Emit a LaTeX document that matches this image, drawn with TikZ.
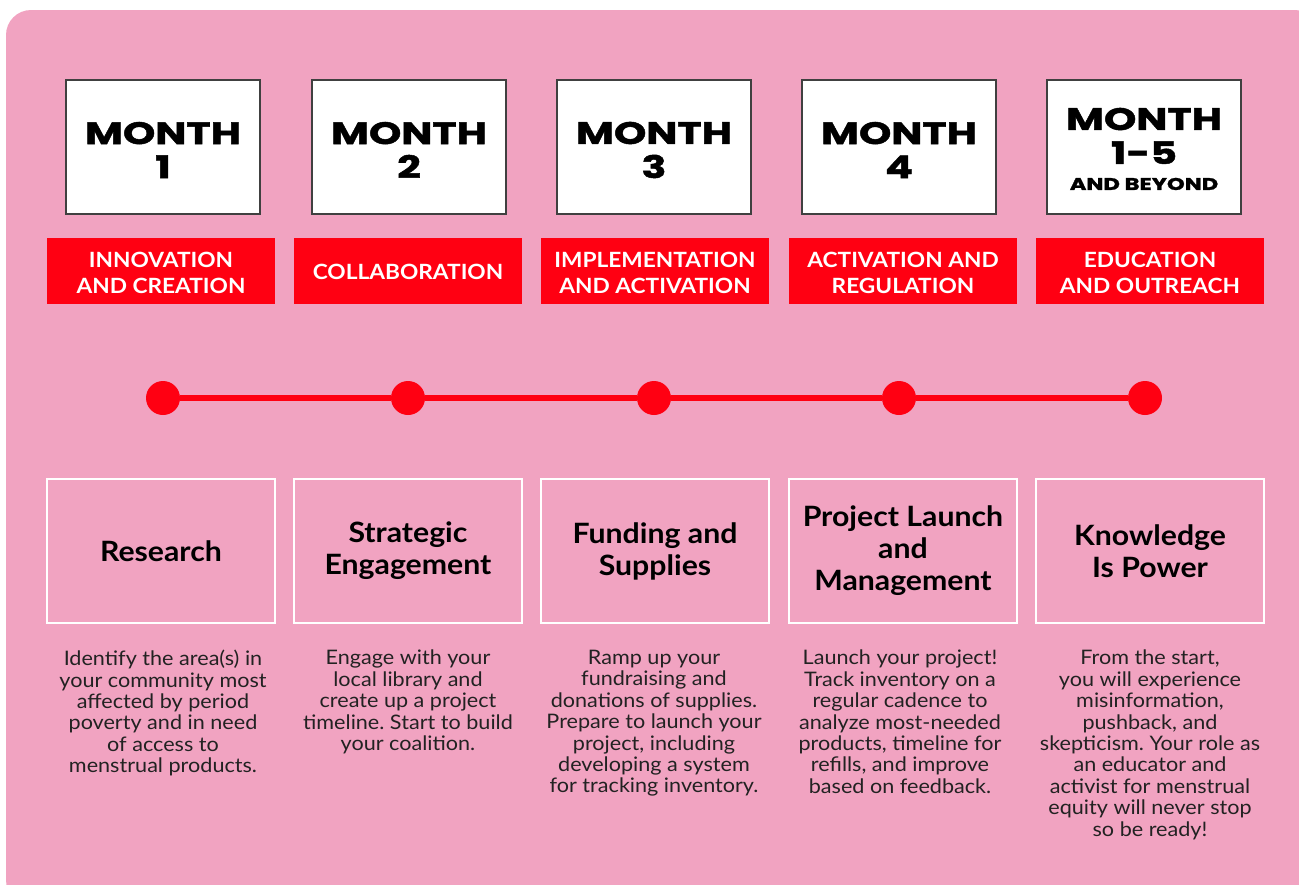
\documentclass[tikz,border=0pt]{standalone}
\usepackage{fontspec}
\setmainfont{Lato}[FakeStretch=1.08]
\newfontfamily\monthfont{Poppins}[FakeStretch=1.33, FakeBold=1.5]
\definecolor{bgpink}{HTML}{F1A3C1}
\definecolor{tlred}{HTML}{FF0012}
\definecolor{bodyink}{HTML}{222222}
\frenchspacing

\tikzset{
  monthbox/.style={draw=black!75, line width=1.2pt, fill=white,
    minimum width=194pt, minimum height=134pt, inner sep=0pt},
  monthlabel/.style={align=center, inner sep=0pt,
    font=\monthfont\bfseries\fontsize{31}{34}\selectfont},
  phase/.style={fill=tlred, minimum width=228pt, minimum height=66pt,
    inner sep=0pt},
  phaselabel/.style={inner sep=0pt, text=white, align=center,
    font=\bfseries\fontsize{21}{26}\selectfont},
  stage/.style={draw=white, line width=1.5pt, minimum width=228pt,
    minimum height=144pt, inner sep=0pt, align=center,
    font=\bfseries\fontsize{28}{32}\selectfont},
  note/.style={anchor=north, align=center, inner sep=0pt, text=bodyink,
    font=\fontsize{20}{21.4}\selectfont},
  dot/.style={circle, fill=tlred, minimum size=34pt, inner sep=0pt},
  track/.style={draw=tlred, line width=6pt}
}

\begin{document}
\begin{tikzpicture}[x=1pt, y=-1pt]
\useasboundingbox (0,0) rectangle (1299,884);
\fill[bgpink, rounded corners=25pt] (6,10) rectangle (1320,905);

% month headers
\node[monthbox] (m1) at (163,147) {};
\node[monthbox] (m2) at (409,147) {};
\node[monthbox] (m3) at (654,147) {};
\node[monthbox] (m4) at (899,147) {};
\node[monthbox] (m5) at (1144,147) {};
\node[monthlabel] (t1) at ([yshift=-3pt]m1) {MONTH\\1};
\node[monthlabel] (t2) at ([yshift=-3pt]m2) {MONTH\\2};
\node[monthlabel] (t3) at ([yshift=-3pt]m3) {MONTH\\3};
\node[monthlabel] (t4) at ([yshift=-3pt]m4) {MONTH\\4};
\node[monthlabel] (t5) at ([yshift=-2pt]m5) {MONTH\\1-5\\[-8pt]{\fontsize{17}{20}\selectfont AND BEYOND}};

% phase banners
\node[phase] (p1) at (161,271) {};
\node[phase] (p2) at (408,271) {};
\node[phase] (p3) at (655,271) {};
\node[phase] (p4) at (903,271) {};
\node[phase] (p5) at (1150,271) {};
\node[phaselabel] (q1) at ([yshift=-2pt]p1) {INNOVATION\\AND CREATION};
\node[phaselabel] (q2) at ([yshift=-1pt]p2) {COLLABORATION};
\node[phaselabel] (q3) at ([yshift=-2pt]p3) {IMPLEMENTATION\\AND ACTIVATION};
\node[phaselabel] (q4) at ([yshift=-2pt]p4) {ACTIVATION AND\\REGULATION};
\node[phaselabel] (q5) at ([yshift=-2pt]p5) {EDUCATION\\AND OUTREACH};

% timeline
\node[dot] (d1) at (163,398) {};
\node[dot] (d2) at (408,398) {};
\node[dot] (d3) at (654,398) {};
\node[dot] (d4) at (899,398) {};
\node[dot] (d5) at (1145,398) {};
\draw[track] (d1) -- (d2);
\draw[track] (d2) -- (d3);
\draw[track] (d3) -- (d4);
\draw[track] (d4) -- (d5);

% stage boxes
\node[stage] (s1) at (161,551) {Research};
\node[stage] (s2) at (408,551) {Strategic\\Engagement};
\node[stage] (s3) at (655,551) {Funding and\\Supplies};
\node[stage] (s4) at (903,551) {Project Launch\\and\\Management};
\node[stage] (s5) at (1150,551) {Knowledge\\Is Power};

% descriptions
\node[note] (n1) at (163,650) {Identify the area(s) in\\your community most\\affected by period\\poverty and in need\\of access to\\menstrual products.};
\node[note] (n2) at (408,650) {Engage with your\\local library and\\create up a project\\timeline. Start to build\\your coalition.};
\node[note] (n3) at (654,650) {Ramp up your\\fundraising and\\donations of supplies.\\Prepare to launch your\\project, including\\developing a system\\for tracking inventory.};
\node[note] (n4) at (900,650) {Launch your project!\\Track inventory on a\\regular cadence to\\analyze most-needed\\products, timeline for\\refills, and improve\\based on feedback.};
\node[note] (n5) at (1150,650) {From the start,\\you will experience\\misinformation,\\pushback, and\\skepticism. Your role as\\an educator and\\activist for menstrual\\equity will never stop\\so be ready!};
\end{tikzpicture}
\end{document}
